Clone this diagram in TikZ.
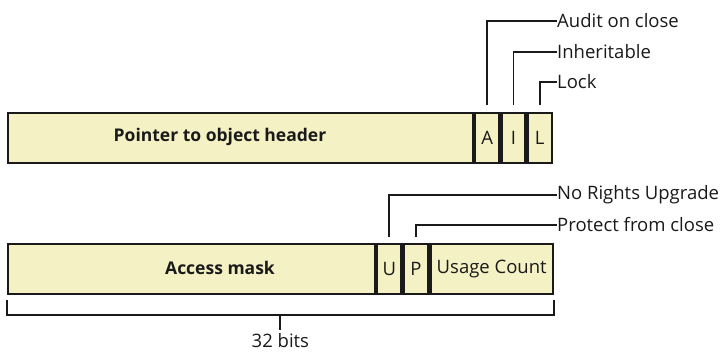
\documentclass[tikz,border=0pt]{standalone}
\usepackage{fontspec}
\setmainfont{Open Sans}
\usetikzlibrary{calc,positioning}
\definecolor{ink}{HTML}{1A1A1A}
\definecolor{fieldFill}{HTML}{F4F2C4}
\tikzset{
  field box/.style={
    draw=ink,
    fill=fieldFill,
    line width=2.2pt,
    minimum height=50pt,
    inner sep=0pt,
    anchor=north west,
    font=\fontsize{18.5}{22}\selectfont,
    text=ink
  },
  bit cell/.style={
    field box,
    minimum width=24pt
  },
  field text/.style={
    font=\fontsize{17.5}{20}\selectfont\bfseries,
    text=ink,
    inner sep=0pt
  },
  flag label/.style={
    font=\fontsize{18.5}{22}\selectfont,
    text=ink,
    anchor=west,
    inner sep=0pt
  },
  leader/.style={
    draw=ink,
    line width=1.9pt
  }
}

\begin{document}
\begin{tikzpicture}[x=1pt,y=-1pt]
  \useasboundingbox (0,0) rectangle (727,352);

  % handle table entry, first word
  \node[field box,minimum width=465pt] (pointer) at (7,112) {};
  \node[bit cell,anchor=north west] (audit-bit) at (pointer.north east) {A};
  \node[bit cell,anchor=north west] (inherit-bit) at (audit-bit.north east) {I};
  \node[bit cell,anchor=north west] (lock-bit) at (inherit-bit.north east) {L};
  \node[field text] (pointer-text) at (220,137) {Pointer to object header};

  % second word
  \node[field box,minimum width=367pt] (access) at (7,243) {};
  \node[bit cell,anchor=north west] (upgrade-bit) at (access.north east) {U};
  \node[bit cell,minimum width=25pt,anchor=north west] (protect-bit) at (upgrade-bit.north east) {P};
  \node[field box,minimum width=122pt,anchor=north west] (count) at (protect-bit.north east) {Usage Count};
  \node[field text] (access-text) at (220,268) {Access mask};

  % flag names
  \node[flag label] (audit) at (557,21) {Audit on close};
  \node[flag label] (inherit) at (557,52) {Inheritable};
  \node[flag label] (lock) at (557,82) {Lock};
  \node[flag label] (upgrade) at (557,195) {No Rights Upgrade};
  \node[flag label] (protect) at (557,225) {Protect from close};

  \draw[leader] ($(audit-bit.north)+(0,-7)$) |- (audit.west);
  \draw[leader] ($(inherit-bit.north)+(0,-7)$) |- (inherit.west);
  \draw[leader] ($(lock-bit.north)+(0,-7)$) |- (lock.west);
  \draw[leader] ($(upgrade-bit.north)+(0,-6)$) |- (upgrade.west);
  \draw[leader] ($(protect-bit.north)+(0,-6)$) |- (protect.west);

  % width brace
  \coordinate (brace-left) at ($(access.south west)+(0,5)$);
  \coordinate (brace-right) at ($(count.south east)+(0,5)$);
  \coordinate (brace-mid) at ($(brace-left)!0.5!(brace-right)+(0,15)$);
  \draw[leader] (brace-left) -- ++(0,15) -| (brace-right);
  \node[flag label,anchor=center] (width) at ($(brace-mid)+(0,25)$) {32 bits};
  \draw[leader] (brace-mid) -- ($(width.north)+(0,-3)$);
\end{tikzpicture}
\end{document}
